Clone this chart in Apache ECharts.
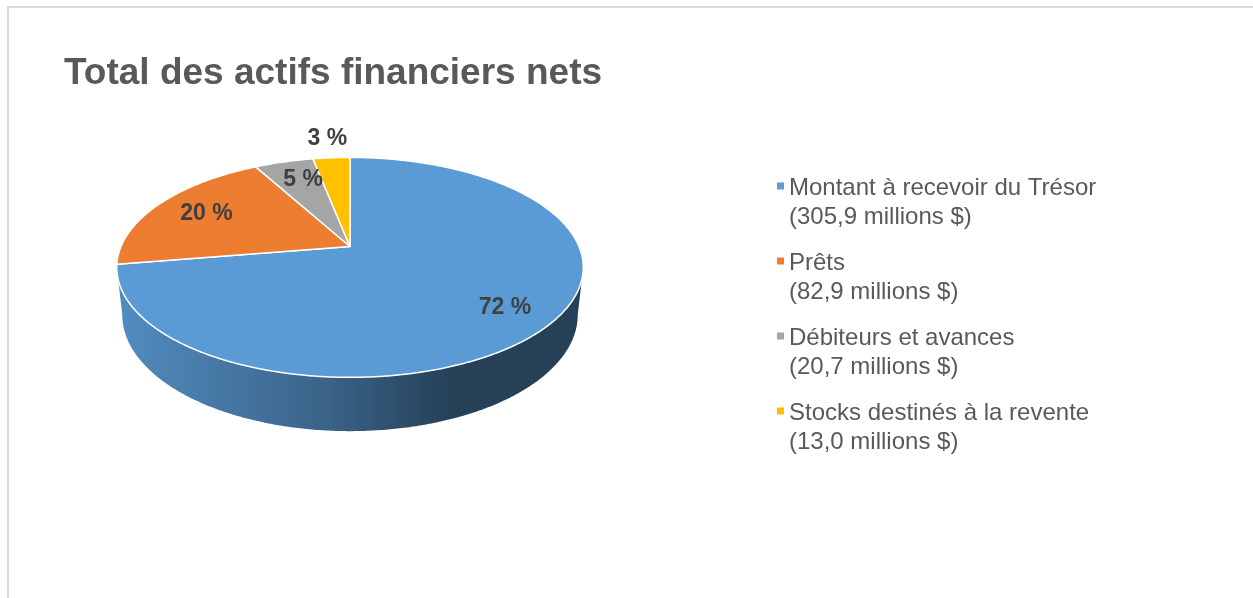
<!DOCTYPE html>
<html>
<head>
<meta charset="utf-8">
<script src="https://cdn.jsdelivr.net/npm/echarts@6/dist/echarts.min.js"></script>
<style>
  html, body { margin: 0; padding: 0; background: #ffffff; }
  #chart { width: 1253px; height: 598px; }
</style>
</head>
<body>
<div id="chart"></div>
<script>
// Net financial assets, in millions of dollars
const categories = [
  'Montant à recevoir du Trésor',
  'Prêts',
  'Débiteurs et avances',
  'Stocks destinés à la revente'
];
const amounts = [305.9, 82.9, 20.7, 13.0];
const sliceColors = ['#5B9BD5', '#ED7D31', '#A5A5A5', '#FFC000'];

const total = amounts.reduce((a, b) => a + b, 0);
const startAngles = [];
amounts.reduce((acc, v, i) => { startAngles[i] = acc / total * 360; return acc + v; }, 0);

// 3-D pie geometry: disk radius, tilt, eye distance and thickness (px)
const geo = { cx: 350, cy: 246.5, R: 229, sinA: 106 / 229, D: 1068, T: 54 };
geo.cosA = Math.sqrt(1 - geo.sinA * geo.sinA);
// radial position of each percentage label (fraction of the radius)
const labelRadius = [0.8, 0.74, 0.75, 1.27];

// angle in degrees clockwise from the back of the disk, f = radial fraction, drop = depth below top face
function project(angle, f, drop) {
  const a = angle * Math.PI / 180;
  const s = Math.sin(a), c = Math.cos(a);
  const X = f * geo.R * s;
  const yUp = f * geo.R * c * geo.sinA - drop * geo.cosA;
  const depth = f * geo.R * c * geo.cosA + drop * geo.sinA;
  const k = geo.D / (geo.D + depth);
  return [geo.cx + X * k, geo.cy - yUp * k];
}

// angles where the rim reaches its left/right extremes (silhouette of the side wall)
function extremes(drop) {
  let right = 90, left = 270, maxX = -Infinity, minX = Infinity;
  for (let t = 80; t <= 140; t += 0.1) {
    const x = project(t, 1, drop)[0];
    if (x > maxX) { maxX = x; right = t; }
  }
  for (let t = 220; t <= 280; t += 0.1) {
    const x = project(t, 1, drop)[0];
    if (x < minX) { minX = x; left = t; }
  }
  return [right, left];
}
const topExt = extremes(0);
const botExt = extremes(geo.T);

function arc(from, to, drop) {
  const pts = [];
  const n = Math.max(2, Math.ceil(Math.abs(to - from) / 0.5));
  for (let i = 0; i <= n; i++) pts.push(project(from + (to - from) * i / n, 1, drop));
  return pts;
}

function shade(hex, f) {
  const n = parseInt(hex.slice(1), 16);
  const r = Math.round(((n >> 16) & 255) * f);
  const g = Math.round(((n >> 8) & 255) * f);
  const b = Math.round((n & 255) * f);
  return `rgb(${r},${g},${b})`;
}

function renderSlice(params, api) {
  const i = params.seriesIndex;
  const value = api.value(0);
  const start = startAngles[i];
  const end = start + value / total * 360;
  const color = sliceColors[i];
  const children = [];

  // visible front wall
  const t0 = Math.max(start, topExt[0]), t1 = Math.min(end, topExt[1]);
  const b0 = Math.max(start, botExt[0]), b1 = Math.min(end, botExt[1]);
  if (t1 > t0 && b1 > b0) {
    const pts = arc(t0, t1, 0).concat(arc(b1, b0, geo.T));
    const xl = project(topExt[1], 1, 0)[0], xr = project(topExt[0], 1, 0)[0];
    children.push({
      type: 'polygon',
      z2: 0,
      shape: { points: pts },
      style: {
        fill: {
          type: 'linear', global: true, x: xl, y: 0, x2: xr, y2: 0,
          colorStops: [
            { offset: 0, color: shade(color, 0.9) },
            { offset: 0.45, color: shade(color, 0.64) },
            { offset: 0.72, color: shade(color, 0.41) },
            { offset: 1, color: shade(color, 0.41) }
          ]
        }
      }
    });
  }

  // top face
  const facePts = [project(0, 0, 0)].concat(arc(start, end, 0));
  children.push({
    type: 'polygon',
    z2: 10,
    shape: { points: facePts },
    style: { fill: color, stroke: '#ffffff', lineWidth: 1.5, lineJoin: 'round' }
  });

  // percentage label
  const mid = (start + end) / 2 + (i === 2 ? 1.8 : 0);
  const pos = project(mid, labelRadius[i], 0);
  children.push({
    type: 'text',
    z2: 20,
    style: {
      text: Math.round(value / total * 100) + ' %',
      x: pos[0], y: pos[1],
      align: 'center', verticalAlign: 'middle',
      fill: '#404040',
      font: 'bold 23px "Liberation Sans", Arial, sans-serif'
    }
  });

  return { type: 'group', children };
}

const amountText = amounts.map(v => '(' + v.toFixed(1).replace('.', ',') + ' millions $)');

const chart = echarts.init(document.getElementById('chart'), null, { renderer: 'canvas' });
chart.setOption({
  backgroundColor: '#ffffff',
  animation: false,
  title: {
    text: 'Total des actifs financiers nets',
    left: 59, top: 50,
    textStyle: { fontFamily: '"Liberation Sans", Arial, sans-serif', fontSize: 37, fontWeight: 'bold', color: '#595959' }
  },
  legend: {
    orient: 'vertical',
    left: 777, top: 174,
    padding: 0,
    itemWidth: 7, itemHeight: 41,
    itemGap: 17,
    icon: 'path://M0,0H7V7H0Z M0,41H7',
    itemStyle: { borderWidth: 0 },
    selectedMode: false,
    data: categories,
    formatter: name => name + '\n' + amountText[categories.indexOf(name)],
    textStyle: { fontFamily: '"Liberation Sans", Arial, sans-serif', fontSize: 24, lineHeight: 29, color: '#595959' }
  },
  graphic: [{
    type: 'rect',
    shape: { x: 8, y: 7, width: 1400, height: 800 },
    style: { fill: 'none', stroke: '#d9d9d9', lineWidth: 2 },
    silent: true
  }],
  series: categories.map((name, i) => ({
    type: 'custom',
    name,
    coordinateSystem: 'none',
    itemStyle: { color: sliceColors[i] },
    renderItem: renderSlice,
    data: [amounts[i]]
  }))
});
</script>
</body>
</html>
